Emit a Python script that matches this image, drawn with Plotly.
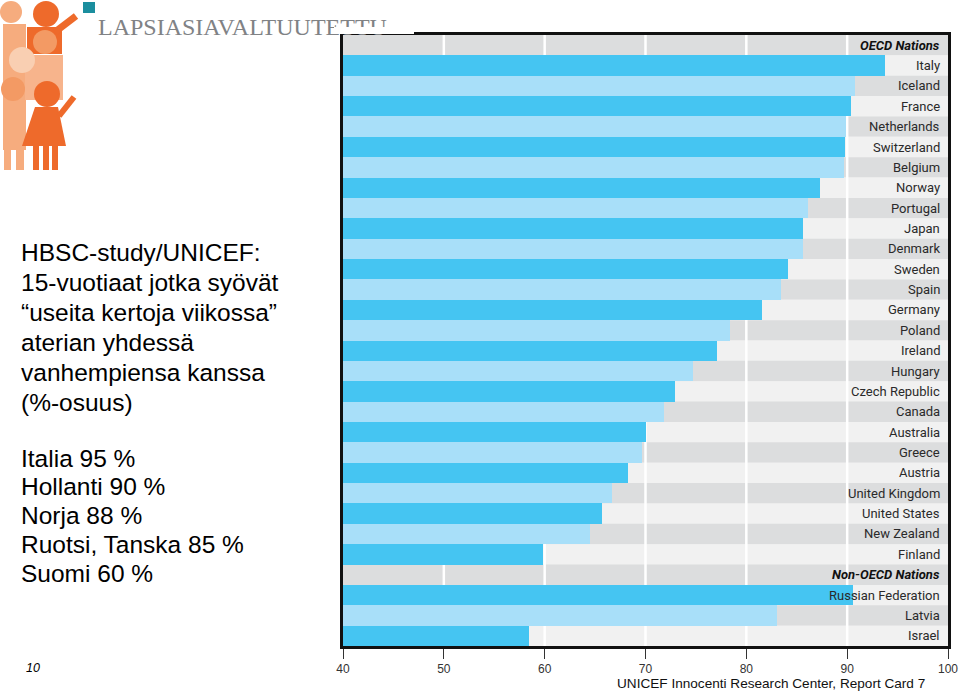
import plotly.graph_objects as go

# ---------------- data ----------------
oecd_countries = ["Italy", "Iceland", "France", "Netherlands", "Switzerland", "Belgium",
                  "Norway", "Portugal", "Japan", "Denmark", "Sweden", "Spain", "Germany",
                  "Poland", "Ireland", "Hungary", "Czech Republic", "Canada", "Australia",
                  "Greece", "Austria", "United Kingdom", "United States", "New Zealand",
                  "Finland"]
oecd_values = [93.8, 90.8, 90.4, 89.9, 89.8, 89.7, 87.3, 86.1, 85.6, 85.6, 84.1, 83.4,
               81.6, 78.4, 77.1, 74.7, 72.9, 71.8, 70.0, 69.7, 68.3, 66.7, 65.7, 64.5, 59.8]
non_oecd_countries = ["Russian Federation", "Latvia", "Israel"]
non_oecd_values = [90.6, 83.0, 58.4]
group_headers = ["OECD Nations", "Non-OECD Nations"]
x_ticks = [40, 50, 60, 70, 80, 90, 100]

title_lines = ["HBSC-study/UNICEF:", "15-vuotiaat jotka syövät",
               "\u201cuseita kertoja viikossa\u201d", "aterian yhdessä",
               "vanhempiensa kanssa", "(%-osuus)"]
summary_lines = ["Italia 95 %", "Hollanti 90 %", "Norja 88 %",
                 "Ruotsi, Tanska 85 %", "Suomi 60 %"]
source_text = "UNICEF Innocenti Research Center, Report Card 7"
page_number = "10"
logo_text = "LAPSIASIAVALTUUTETTU"

# ---------------- layout helpers ----------------
W, H = 960, 693
PL, PR, PT, PB = 343, 948, 35, 646


def px_x(p):
    return (p - PL) / (PR - PL)


def px_y(p):
    return (PB - p) / (PB - PT)


rows = [group_headers[0]] + oecd_countries + [group_headers[1]] + non_oecd_countries
row_values = [None] + oecd_values + [None] + non_oecd_values
n = len(rows)

DARK = "#45C5F2"
LIGHT = "#A8DFF9"
BG_GRAY = "#DCDDDE"
BG_LIGHT = "#F1F1F1"

bar_y = [i for i, v in enumerate(row_values) if v is not None]
bar_x = [v for v in row_values if v is not None]
bar_colors = [DARK if i % 2 == 1 else LIGHT for i in bar_y]

fig = go.Figure()
fig.add_trace(go.Bar(
    x=bar_x, y=bar_y, orientation="h", width=1.0,
    marker=dict(color=bar_colors, line=dict(width=0)),
    hoverinfo="skip", showlegend=False,
))

shapes = []
# row backgrounds
for i in range(n):
    shapes.append(dict(type="rect", xref="x", yref="y", x0=x_ticks[0], x1=x_ticks[-1],
                       y0=i - 0.5, y1=i + 0.5, fillcolor=BG_GRAY if i % 2 == 0 else BG_LIGHT,
                       line=dict(width=0), layer="below"))
# white grid lines
for t in x_ticks[1:-1]:
    shapes.append(dict(type="line", xref="x", yref="y", x0=t, x1=t, y0=-0.5, y1=n - 0.5,
                       line=dict(color="white", width=2.5), layer="below"))

# ---- logo (decorative shapes) ----
LOGO_DARK = "#EE6A2B"
LOGO_MID = "#F39A64"
LOGO_LIGHT = "#F6AC7E"
LOGO_PALE = "#F9CFB2"


def prect(x0, y0, x1, y1, color):
    shapes.append(dict(type="rect", xref="paper", yref="paper", x0=px_x(x0), x1=px_x(x1),
                       y0=px_y(y1), y1=px_y(y0), fillcolor=color, line=dict(width=0)))


def pcirc(cx, cy, r, color):
    shapes.append(dict(type="circle", xref="paper", yref="paper", x0=px_x(cx - r), x1=px_x(cx + r),
                       y0=px_y(cy + r), y1=px_y(cy - r), fillcolor=color, line=dict(width=0)))


def pline(xa, ya, xb, yb, color, w):
    shapes.append(dict(type="line", xref="paper", yref="paper", x0=px_x(xa), x1=px_x(xb),
                       y0=px_y(ya), y1=px_y(yb), line=dict(color=color, width=w)))


def ppath(points, color):
    d = "M " + " L ".join(f"{px_x(a)},{px_y(b)}" for a, b in points) + " Z"
    shapes.append(dict(type="path", xref="paper", yref="paper", path=d, fillcolor=color,
                       line=dict(width=0)))


prect(3, 24, 26, 150, LOGO_LIGHT)
prect(4, 150, 11, 170, LOGO_LIGHT)
prect(16, 150, 24, 170, LOGO_LIGHT)
pcirc(11, 12, 11, LOGO_LIGHT)
prect(25, 55, 63, 100, "#F7B48C")
prect(27, 27, 62, 54, LOGO_DARK)
pcirc(46, 14, 13, LOGO_DARK)
pline(55, 32, 76, 16, LOGO_DARK, 7)
pcirc(45, 42, 12, LOGO_MID)
pcirc(22, 60, 13, LOGO_PALE)
pcirc(13, 89, 12, LOGO_MID)
pcirc(47, 94, 13, LOGO_DARK)
ppath([(35, 107), (58, 107), (66, 146), (22, 146)], LOGO_DARK)
prect(33, 145, 39, 170, LOGO_DARK)
prect(43, 145, 49, 170, LOGO_DARK)
prect(52, 145, 58, 170, LOGO_DARK)
pline(59, 116, 74, 97, LOGO_DARK, 6)
prect(83, 2, 95, 13, "#1B8E9E")

annotations = []
LABEL_FAMILY = "Roboto, Liberation Sans, Arial, sans-serif"
# row labels
for i, name in enumerate(rows):
    is_header = name in group_headers
    annotations.append(dict(
        x=x_ticks[-1], y=i, xref="x", yref="y", xanchor="right", yanchor="middle",
        xshift=-6, text=f"<b><i>{name}</i></b>" if is_header else name, showarrow=False,
        font=dict(family=LABEL_FAMILY, size=13,
                  color="#111111" if is_header else "#2a2a2a"),
    ))

# left text
LEFT_FONT = dict(family="Liberation Sans, Arial, sans-serif", size=24.5, color="#000000")
for k, line in enumerate(title_lines):
    annotations.append(dict(x=px_x(19), y=px_y(252 + 30 * k), xref="paper", yref="paper",
                            xanchor="left", yanchor="middle", text=line, showarrow=False,
                            font=LEFT_FONT))
for k, line in enumerate(summary_lines):
    annotations.append(dict(x=px_x(19), y=px_y(458 + 28.8 * k), xref="paper", yref="paper",
                            xanchor="left", yanchor="middle", text=line, showarrow=False,
                            font=LEFT_FONT))

annotations.append(dict(x=px_x(24), y=px_y(668), xref="paper", yref="paper", xanchor="left",
                        yanchor="middle", text=f"<i>{page_number}</i>", showarrow=False,
                        font=dict(family="Liberation Sans, Arial, sans-serif", size=12.5, color="#000")))
annotations.append(dict(x=px_x(927), y=px_y(684), xref="paper", yref="paper", xanchor="right",
                        yanchor="middle", text=source_text, showarrow=False,
                        font=dict(family="Liberation Sans, Arial, sans-serif", size=13.6, color="#111")))
# logo word
annotations.append(dict(x=px_x(96), y=px_y(27), xref="paper", yref="paper", xanchor="left",
                        yanchor="middle", text=logo_text, showarrow=False,
                        font=dict(family="Liberation Serif, Times New Roman, serif", size=24,
                                  color="#808285")))
# white chart-image edge covering the end of the logo word
annotations.append(dict(x=px_x(334), y=px_y(27), xref="paper", yref="paper", xanchor="left",
                        yanchor="top", text=" ", showarrow=False, width=80, height=7,
                        bgcolor="white", borderpad=0, borderwidth=0))

fig.update_layout(
    width=W, height=H, autosize=False,
    margin=dict(l=PL, r=W - PR, t=PT, b=H - PB, pad=0, autoexpand=False),
    paper_bgcolor="white", plot_bgcolor=BG_LIGHT,
    bargap=0, showlegend=False,
    shapes=shapes, annotations=annotations,
    xaxis=dict(range=[x_ticks[0], x_ticks[-1]], tickvals=x_ticks, ticks="outside",
               ticklen=10, tickwidth=1, tickcolor="#333", showgrid=False, zeroline=False,
               showline=True, linecolor="#111", linewidth=2.5, mirror=True, automargin=False,
               tickfont=dict(family="Liberation Sans, Arial, sans-serif", size=12, color="#333"),
               fixedrange=True),
    yaxis=dict(range=[n - 0.5, -0.5], showticklabels=False, ticks="", showgrid=False,
               zeroline=False, showline=True, linecolor="#111", linewidth=2.5, mirror=True,
               automargin=False, fixedrange=True),
)

fig.write_html(
    "out.html",
    config={"displayModeBar": False},
    post_script="document.documentElement.style.margin='0';document.body.style.margin='0';"
                "document.body.style.overflow='hidden';",
)
